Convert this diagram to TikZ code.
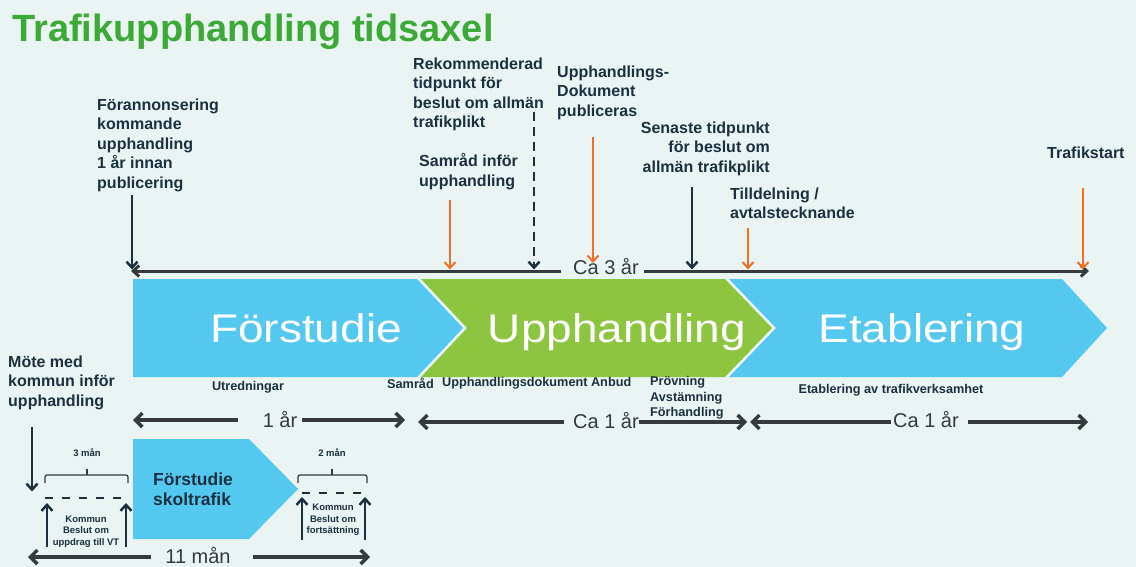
\documentclass[tikz,border=0pt]{standalone}
\usepackage{fontspec}
\setmainfont{Liberation Sans}
\newfontfamily\phasefont[FakeStretch=1.15]{Liberation Sans}
\usepackage{tikz}
\usetikzlibrary{arrows.meta,positioning}

\definecolor{bgcol}{RGB}{233,244,243}
\definecolor{phaseblue}{RGB}{85,200,240}
\definecolor{phasegreen}{RGB}{140,198,64}
\definecolor{titlegreen}{RGB}{60,170,55}
\definecolor{ink}{RGB}{28,48,64}
\definecolor{orangearr}{RGB}{242,112,36}
\definecolor{darkline}{RGB}{55,58,60}

\tikzset{
    %Define standard arrow tip
    >={Straight Barb[length=6pt,width=11pt]},
    %Define style for labels
    lbl/.style={
           anchor=north west,
           inner sep=0pt,
           align=left,
           text=ink,
           font=\bfseries\fontsize{16}{19.5}\selectfont},
    smalllbl/.style={
           inner sep=0pt,
           align=left,
           text=ink,
           font=\bfseries\fontsize{12.7}{15.5}\selectfont},
    tinylbl/.style={
           inner sep=0pt,
           align=center,
           text=ink,
           font=\bfseries\fontsize{9.5}{11.5}\selectfont},
    durlbl/.style={
           anchor=base,
           inner sep=0pt,
           text=darkline,
           font=\fontsize{20}{24}\selectfont},
    phase/.style={
           anchor=base,
           inner sep=0pt,
           text=white,
           font=\phasefont\fontsize{40}{48}\selectfont},
    % Define arrow styles
    tline/.style={->, draw=darkline, line width=3pt},
    durarr/.style={draw=darkline, line width=3.5pt,
           >={Straight Barb[length=7pt,width=14pt]}},
    darr/.style={->, draw=ink, line width=2.5pt, shorten >=1.5pt},
    oarr/.style={->, draw=orangearr, line width=2pt, shorten >=1.5pt},
    uarr/.style={->, draw=ink, line width=2.5pt},
    dashln/.style={draw=ink, line width=2pt, dash pattern=on 8pt off 9pt},
    brc/.style={draw=darkline, line width=1.2pt, rounded corners=2pt}
}

\begin{document}
\begin{tikzpicture}[x=1pt,y=-1pt]
\fill[bgcol] (0,0) rectangle (1136,567);
\useasboundingbox (0,0) rectangle (1136,567);

% title
\node[anchor=base west, inner sep=0pt, text=titlegreen,
      font=\bfseries\fontsize{38}{44}\selectfont] (title) at (12,42) {Trafikupphandling tidsaxel};

% phases
\fill[phaseblue]  (133,279) -- (417,279) -- (463,328) -- (417,377) -- (133,377) -- cycle;
\fill[phasegreen] (421,279) -- (725,279) -- (772,328) -- (725,377) -- (421,377) -- (467,328) -- cycle;
\fill[phaseblue]  (729,279) -- (1062,279) -- (1107,328) -- (1062,377) -- (729,377) -- (776,328) -- cycle;
\node[phase] (forstudie) at (306,342) {Förstudie};
\node[phase] (upphandling) at (617,342) {Upphandling};
\node[phase] (etablering) at (922,342) {Etablering};

% events above the time line
\node[lbl] (foran) at (97,98.5) {Förannonsering\\kommande\\upphandling\\1 år innan\\publicering};
\node[lbl] (rekom) at (413,57.5) {Rekommenderad\\tidpunkt för\\beslut om allmän\\trafikplikt};
\node[lbl] (samrad) at (419,153.5) {Samråd inför\\upphandling};
\node[lbl] (uppdok) at (557,65.5) {Upphandlings-\\Dokument\\publiceras};
\node[lbl, anchor=north east, align=right] (senaste) at (770,121.5) {Senaste tidpunkt\\för beslut om\\allmän trafikplikt};
\node[lbl] (tilldel) at (730,187.5) {Tilldelning /\\avtalstecknande};
\node[lbl] (trafikstart) at (1047,146.5) {Trafikstart};

% time line
\coordinate (tl-L) at (131,271);
\coordinate (tl-R) at (1089,271);
\node[durlbl] (ca3) at (606,274) {Ca 3 år};
\draw[tline,<-,shorten >=12pt] (tl-L) -- (ca3.west |- tl-L);
\draw[tline,shorten <=5pt] (ca3.east |- tl-R) -- (tl-R);

\coordinate (foran-a) at (132,195);
\coordinate (samrad-a) at (450,200);
\coordinate (rekom-a) at (534,112);
\coordinate (uppdok-a) at (593,137);
\coordinate (senaste-a) at (692,187);
\coordinate (tilldel-a) at (748,228);
\coordinate (trafikstart-a) at (1083,188);
\draw[darr] (foran-a) -- (foran-a |- tl-L);
\draw[oarr] (samrad-a) -- (samrad-a |- tl-L);
\draw[darr, dash pattern=on 9pt off 6pt] (rekom-a) -- (rekom-a |- tl-L);
\draw[oarr, shorten >=8pt] (uppdok-a) -- (uppdok-a |- tl-L);
\draw[darr] (senaste-a) -- (senaste-a |- tl-L);
\draw[oarr] (tilldel-a) -- (tilldel-a |- tl-L);
\draw[oarr] (trafikstart-a) -- (trafikstart-a |- tl-L);

% activities below the phases
\node[smalllbl] (utred) at (248,387) {Utredningar};
\node[smalllbl, anchor=west] (samr2) at (387,383) {Samråd};
\node[smalllbl, anchor=west] (uppdok2) at (442,383) {Upphandlingsdokument Anbud};
\node[smalllbl, anchor=north west] (provn) at (650,376.5) {Prövning\\Avstämning\\Förhandling};
\node[smalllbl] (etabav) at (891,390) {Etablering av trafikverksamhet};

% durations
\coordinate (yr1-L) at (133,420);
\coordinate (yr1-R) at (405,420);
\node[durlbl] (yr1) at (280,427) {1 år};
\draw[durarr,<-,shorten >=25pt] (yr1-L) -- (yr1.west |- yr1-L);
\draw[durarr,->,shorten <=5pt] (yr1.east |- yr1-R) -- (yr1-R);

\coordinate (ca1a-L) at (418,422);
\coordinate (ca1a-R) at (747,422);
\node[durlbl] (ca1a) at (606,428) {Ca 1 år};
\draw[durarr,<-,shorten >=9pt] (ca1a-L) -- (ca1a.west |- ca1a-L);
\draw[durarr,->] (ca1a.east |- ca1a-R) -- (ca1a-R);

\coordinate (ca1b-L) at (750,422);
\coordinate (ca1b-R) at (1088,422);
\node[durlbl] (ca1b) at (926,427) {Ca 1 år};
\draw[durarr,<-,shorten >=2pt] (ca1b-L) -- (ca1b.west |- ca1b-L);
\draw[durarr,->,shorten <=9pt] (ca1b.east |- ca1b-R) -- (ca1b-R);

% school traffic pre-study
\node[lbl] (mote) at (8,355.5) {Möte med\\kommun inför\\upphandling};
\coordinate (mote-a) at (32,427);
\coordinate (mote-b) at (32,493);
\draw[darr] (mote-a) -- (mote-b);

\fill[phaseblue] (133,439) -- (249,439) -- (298,489) -- (249,539) -- (133,539) -- cycle;
\node[lbl, font=\bfseries\fontsize{17.5}{20}\selectfont] (skol) at (153,472.5) {Förstudie\\skoltrafik};

\node[tinylbl] (m3) at (87,453) {3 mån};
\draw[brc] (45,483) -- (45,475) -- (128,475) -- (128,483);
\draw[brc] (87,475) -- (87,469);
\draw[dashln] (45,498) -- (127,498);
\coordinate (k1-a) at (47,547);
\coordinate (k1-b) at (126,547);
\draw[uarr] (k1-a) -- (k1-a |- 0,503);
\draw[uarr] (k1-b) -- (k1-b |- 0,503);
\node[tinylbl, anchor=north] (kom1) at (86,515.5) {Kommun\\Beslut om\\uppdrag till VT};

\node[tinylbl] (m2) at (332,453) {2 mån};
\draw[brc] (298,483) -- (298,475) -- (367,475) -- (367,483);
\draw[brc] (332,475) -- (332,469);
\draw[dashln] (302,493) -- (364,493);
\coordinate (k2-a) at (302,540);
\coordinate (k2-b) at (365,540);
\draw[uarr] (k2-a) -- (k2-a |- 0,497);
\draw[uarr] (k2-b) -- (k2-b |- 0,497);
\node[tinylbl, anchor=north] (kom2) at (333,504) {Kommun\\Beslut om\\fortsättning};

\coordinate (mon11-L) at (28,557);
\coordinate (mon11-R) at (370,557);
\node[durlbl] (mon11) at (198,563) {11 mån};
\draw[durarr,<-,shorten >=14pt] (mon11-L) -- (mon11.west |- mon11-L);
\draw[durarr,->,shorten <=22pt] (mon11.east |- mon11-R) -- (mon11-R);
\end{tikzpicture}
\end{document}
